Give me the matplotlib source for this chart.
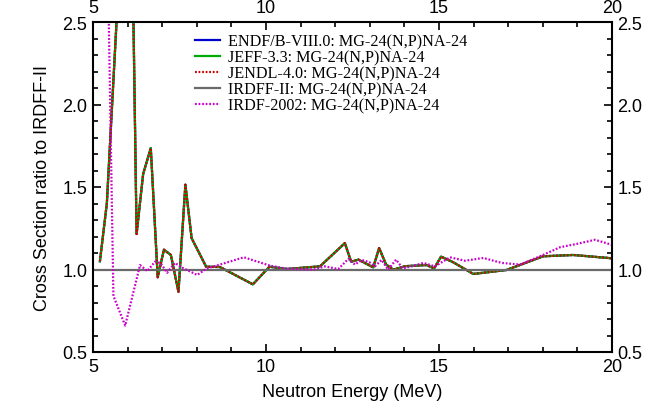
import numpy as np
import matplotlib
matplotlib.use("Agg")
import matplotlib.pyplot as plt
from matplotlib.ticker import MultipleLocator

# energies (MeV) and ratios
energy_eval = [5.2, 5.4, 5.8, 6.1, 6.26, 6.45, 6.67, 6.87, 7.05, 7.25, 7.47, 7.67,
               7.85, 8.27, 8.67, 9.62, 10.1, 10.6, 11.56, 12.28, 12.46, 12.67, 13.10,
               13.27, 13.47, 13.68, 14.02, 14.64, 14.86, 15.06, 15.41, 15.99, 16.95,
               18.01, 18.88, 19.99]
ratio_eval = [1.05, 1.40, 2.97, 3.5, 1.215, 1.58, 1.736, 0.953, 1.12, 1.088, 0.865, 1.514,
              1.19, 1.017, 1.015, 0.91, 1.017, 1.003, 1.019, 1.16, 1.047, 1.06, 1.013,
              1.13, 1.03, 0.999, 1.02, 1.027, 1.007, 1.078, 1.044, 0.973, 0.997,
              1.08, 1.088, 1.068]

energy_irdf = [5.2, 5.4, 5.59, 5.93, 6.36, 6.57, 6.79, 6.95, 7.14, 7.37, 7.56, 8.01,
               8.28, 9.36, 10.12, 10.6, 11.37, 11.7, 12.09, 12.38, 12.57, 12.77, 12.99,
               13.15, 13.34, 13.53, 13.76, 13.95, 14.21, 14.55, 14.88, 15.32, 15.75,
               16.28, 16.81, 17.34, 17.92, 18.50, 18.98, 19.51, 19.99]
ratio_irdf = [4.0, 3.2, 0.84, 0.66, 1.027, 0.99, 1.047, 1.04, 0.98, 1.04, 1.013, 0.967,
              1.005, 1.074, 1.023, 1.005, 0.999, 1.019, 1.003, 1.064, 1.03, 1.058, 1.044,
              1.019, 1.058, 0.999, 1.06, 1.007, 1.019, 1.04, 1.019, 1.074, 1.053,
              1.07, 1.04, 1.03, 1.08, 1.135, 1.155, 1.18, 1.15]

energy_ref = [5.0, 20.0]
ratio_ref = [1.0, 1.0]

reaction = "MG-24(N,P)NA-24"

fig = plt.figure(figsize=(6.64, 4.10), dpi=100)
ax = fig.add_axes([93 / 664, 1 - 353 / 410, (612 - 93) / 664, (353 - 23) / 410])

lw = 1.6
dots = (0, (0.8, 0.8))
ax.plot(energy_eval, ratio_eval, color="#0000cc", lw=lw, label=f"ENDF/B-VIII.0: {reaction}")
ax.plot(energy_eval, ratio_eval, color="#00aa00", lw=lw, label=f"JEFF-3.3: {reaction}")
ax.plot(energy_eval, ratio_eval, color="#cc0000", lw=lw, ls=dots,
        label=f"JENDL-4.0: {reaction}")
ax.plot(energy_ref, ratio_ref, color="#6a6a6a", lw=lw, label=f"IRDFF-II: {reaction}")
ax.plot(energy_irdf, ratio_irdf, color="#cc00cc", lw=lw, ls=dots,
        label=f"IRDF-2002: {reaction}")

ax.set_xlim(5, 20)
ax.set_ylim(0.5, 2.5)
ax.xaxis.set_major_locator(MultipleLocator(5))
ax.xaxis.set_minor_locator(MultipleLocator(1))
ax.yaxis.set_major_locator(MultipleLocator(0.5))
ax.yaxis.set_minor_locator(MultipleLocator(0.1))
ax.yaxis.set_major_formatter(plt.FormatStrFormatter("%.1f"))

sans = ["Liberation Sans", "DejaVu Sans"]
ax.tick_params(which="both", direction="in", top=True, right=True,
               labeltop=True, labelright=True, width=1.2)
ax.tick_params(which="major", length=6, labelsize=13, pad=4)
ax.tick_params(which="minor", length=3.5)
for lab in ax.get_xticklabels() + ax.get_yticklabels():
    lab.set_family(sans)
for sp in ax.spines.values():
    sp.set_linewidth(1.5)

ax.set_xlabel("Neutron Energy (MeV)", fontsize=13, family=sans, labelpad=6)
ax.set_ylabel("Cross Section ratio to IRDFF-II", fontsize=13, family=sans, labelpad=8)

ax.legend(loc="upper left", bbox_to_anchor=(0.185, 0.985), frameon=False,
          prop={"family": ["Liberation Serif", "DejaVu Serif"], "size": 11.6},
          handlelength=1.5, handletextpad=0.5, labelspacing=0.0, borderaxespad=0)

fig.savefig("out.png", dpi=100)
